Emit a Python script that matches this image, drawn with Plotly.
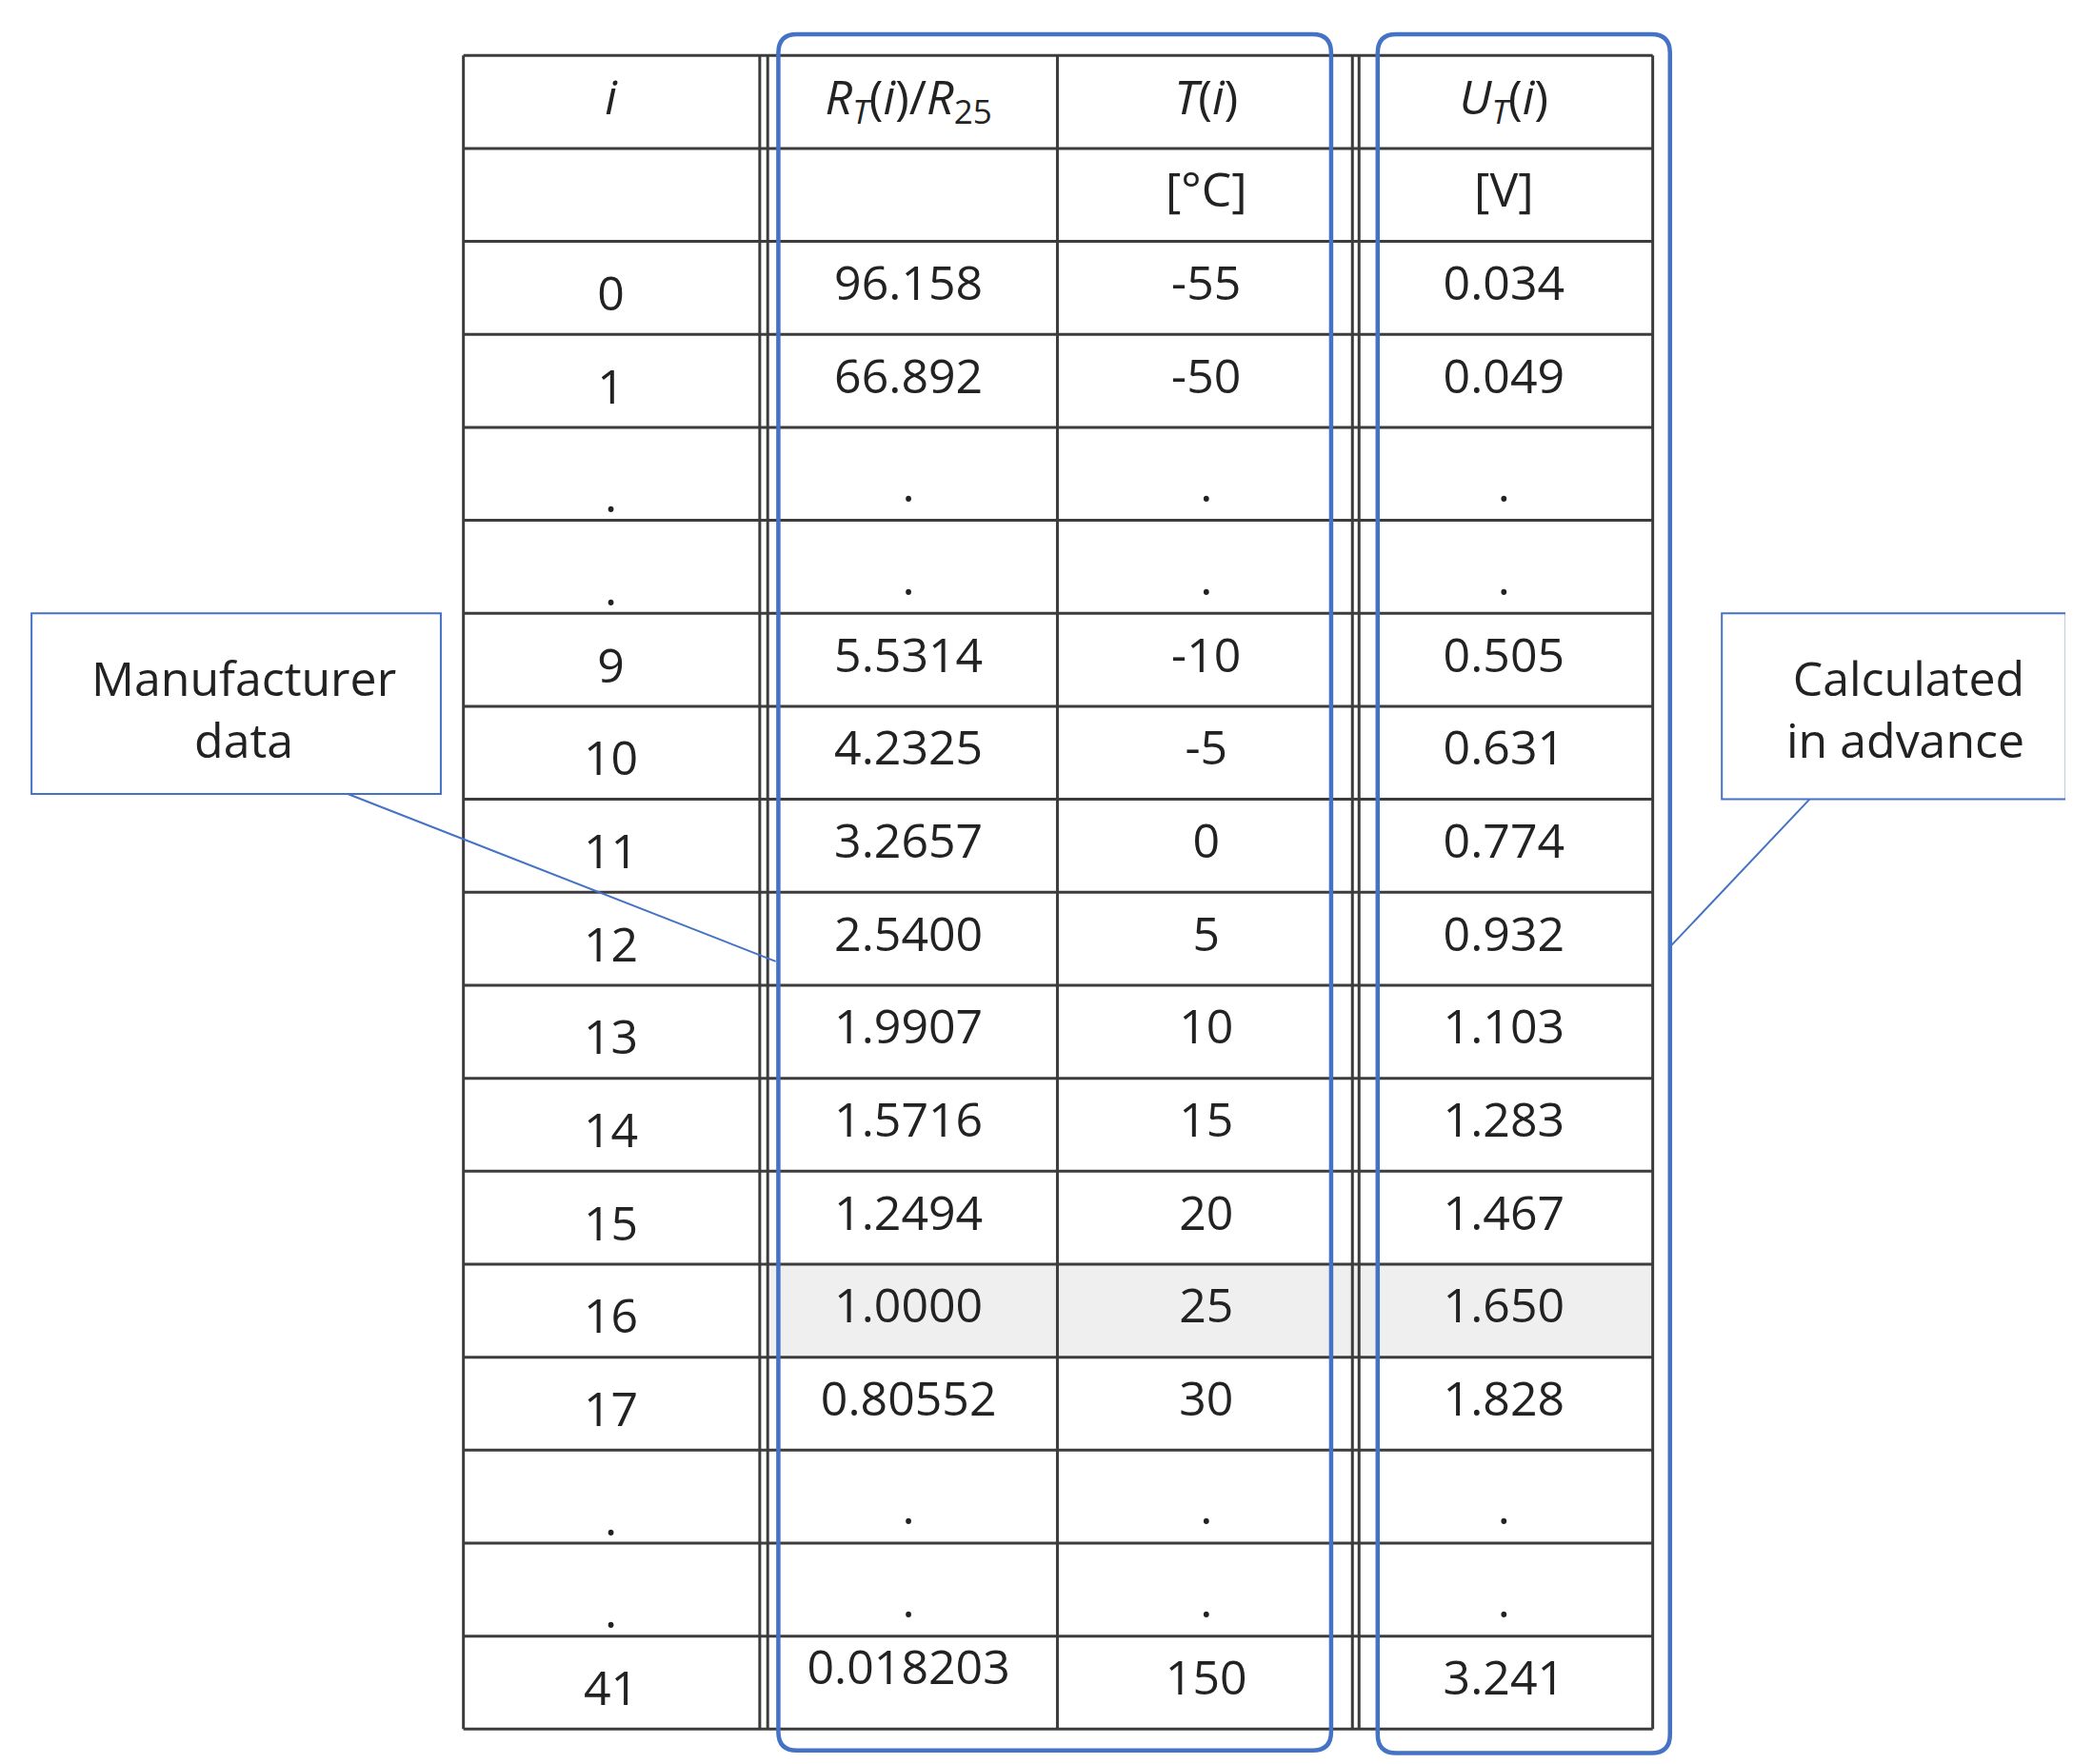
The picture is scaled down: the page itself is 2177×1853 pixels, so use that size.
import plotly.graph_objects as go

idx = ["0", "1", ".", ".", "9", "10", "11", "12", "13", "14", "15", "16", "17", ".", ".", "41"]
ratio = ["96.158", "66.892", ".", ".", "5.5314", "4.2325", "3.2657", "2.5400", "1.9907", "1.5716",
         "1.2494", "1.0000", "0.80552", ".", ".", "0.018203"]
temp = ["-55", "-50", ".", ".", "-10", "-5", "0", "5", "10", "15", "20", "25", "30", ".", ".", "150"]
volt = ["0.034", "0.049", ".", ".", "0.505", "0.631", "0.774", "0.932", "1.103", "1.283", "1.467",
        "1.650", "1.828", ".", ".", "3.241"]
headers = ["<i>i</i>", "<i>R</i><sub><i>T</i></sub>(<i>i</i>)/<i>R</i><sub>25</sub>", "<i>T</i>(<i>i</i>)", "<i>U</i><sub><i>T</i></sub>(<i>i</i>)"]
units = ["", "", "[°C]", "[V]"]
highlight = "16"

W, H = 1560, 1328
top, rh = 36, 70
xl, xr = 343, 1238
centers = [454, 678, 902, 1126]
nrows = 2 + len(idx)
LC = "#3c3c3c"
BLUE = "#4472C4"

shapes = []
hr = 2 + idx.index(highlight)
shapes.append(dict(type="rect", x0=572, x1=xr, y0=top + hr * rh, y1=top + (hr + 1) * rh,
                   fillcolor="#efefef", line_width=0, layer="below"))
for r in range(nrows + 1):
    y = top + r * rh
    shapes.append(dict(type="line", x0=xl, x1=xr, y0=y, y1=y, line=dict(color=LC, width=3)))
for x in [343, 566, 572, 790, 1012, 1017, 1238]:
    shapes.append(dict(type="line", x0=x, x1=x, y0=top, y1=top + nrows * rh, line=dict(color=LC, width=3)))

def rrect(x0, y0, x1, y1, r=14):
    return (f"M{x0+r},{y0} L{x1-r},{y0} Q{x1},{y0} {x1},{y0+r} L{x1},{y1-r} Q{x1},{y1} {x1-r},{y1} "
            f"L{x0+r},{y1} Q{x0},{y1} {x0},{y1-r} L{x0},{y0+r} Q{x0},{y0} {x0+r},{y0} Z")
shapes.append(dict(type="path", path=rrect(580, 20, 996, 1312), line=dict(color=BLUE, width=4.5)))
shapes.append(dict(type="path", path=rrect(1031, 20, 1251, 1314), line=dict(color=BLUE, width=4.5)))
shapes.append(dict(type="rect", x0=18, x1=326, y0=456, y1=592, line=dict(color=BLUE, width=2), fillcolor="white"))
shapes.append(dict(type="rect", x0=1290, x1=1549, y0=456, y1=596, line=dict(color=BLUE, width=2), fillcolor="white"))
shapes.append(dict(type="line", x0=256, y0=592, x1=578, y1=718, line=dict(color=BLUE, width=2)))
shapes.append(dict(type="line", x0=1356, y0=596, x1=1252, y1=706, line=dict(color=BLUE, width=2)))

fig = go.Figure()
FONT = "Open Sans"
FS = 50
xs, ys, ts = [], [], []
for c in range(4):
    xs += [centers[c], centers[c]]
    ys += [top + 0.5 * rh, top + 1.5 * rh]
    ts += [headers[c], units[c]]
fig.add_trace(go.Scatter(x=xs, y=ys, mode="text", text=ts, textfont=dict(family=FONT, size=FS, color="#222")))
for c, vals in enumerate([idx, ratio, temp, volt]):
    off = 8 if c == 0 else 0
    yy = []
    for k, v in enumerate(vals):
        y = top + (k + 2.5) * rh + off
        if v == ".":
            y += 12
        if k == len(vals) - 1 and c == 1:
            y -= 8
        yy.append(y)
    fig.add_trace(go.Scatter(x=[centers[c]] * len(vals), y=yy, mode="text", text=vals,
                             textfont=dict(family=FONT, size=FS, color="#222")))

fig.add_annotation(x=178, y=528, text="Manufacturer<br>data", showarrow=False,
                   font=dict(family=FONT, size=FS, color="#222"))
fig.add_annotation(x=1428, y=528, text="Calculated<br>in advance", showarrow=False, align="right",
                   font=dict(family=FONT, size=FS, color="#222"))

fig.update_layout(width=2177, height=1853, margin=dict(l=0, r=0, t=0, b=0), showlegend=False,
                  plot_bgcolor="white", paper_bgcolor="white", shapes=shapes,
                  xaxis=dict(range=[0, W], visible=False, fixedrange=True),
                  yaxis=dict(range=[H, 0], visible=False, fixedrange=True))
fig.write_html("out.html")
